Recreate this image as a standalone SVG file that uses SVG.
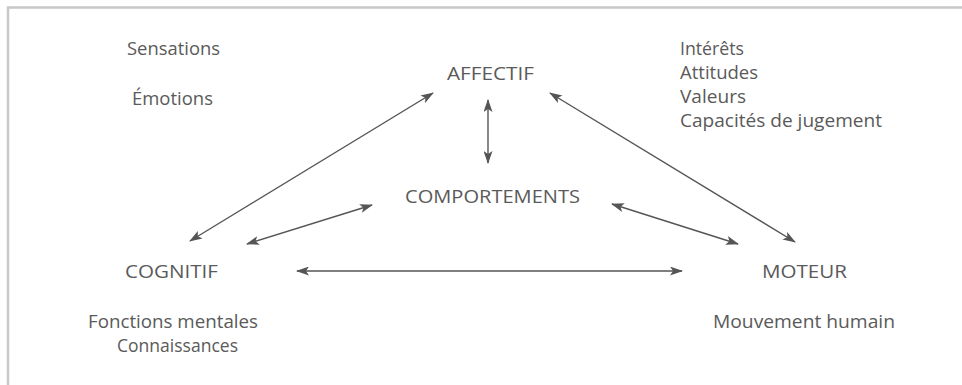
<svg xmlns="http://www.w3.org/2000/svg" width="962" height="385" viewBox="0 0 962 385">
<defs>
<style>
.t{font-family:"Open Sans","Liberation Sans",sans-serif;font-size:18px;fill:#5a5a5a}
.c{stroke:#555;stroke-width:1.4;fill:none;marker-start:url(#ah);marker-end:url(#ah)}
.frame{stroke:#c8c8c8;stroke-width:2.5;fill:none}
</style>
<marker id="ah" viewBox="0 0 13 9" refX="12" refY="4.5" markerWidth="13" markerHeight="9" markerUnits="userSpaceOnUse" orient="auto-start-reverse">
<path d="M0,0 L13,4.5 L0,9 L3,4.5 Z" fill="#555"/>
</marker>
</defs>
<rect width="962" height="385" fill="#fff"/>
<path class="frame" d="M8,385 V7.5 H962"/>
<g id="connectors">
<line class="c" x1="190" y1="241" x2="433" y2="93"/>
<line class="c" x1="488" y1="100" x2="488" y2="163"/>
<line class="c" x1="550" y1="93" x2="795" y2="242"/>
<line class="c" x1="247" y1="244" x2="372" y2="205"/>
<line class="c" x1="612" y1="204" x2="738" y2="244"/>
<line class="c" x1="297" y1="271" x2="682" y2="271"/>
</g>
<g id="affectif">
<text class="t" x="447" y="80" textLength="87" lengthAdjust="spacingAndGlyphs">AFFECTIF</text>
<text class="t" x="127" y="55" textLength="93" lengthAdjust="spacingAndGlyphs">Sensations</text>
<text class="t" x="132" y="105" textLength="81" lengthAdjust="spacingAndGlyphs">Émotions</text>
<text class="t" x="680" y="55" textLength="64" lengthAdjust="spacingAndGlyphs">Intérêts</text>
<text class="t" x="680" y="79" textLength="78" lengthAdjust="spacingAndGlyphs">Attitudes</text>
<text class="t" x="680" y="103" textLength="66" lengthAdjust="spacingAndGlyphs">Valeurs</text>
<text class="t" x="680" y="127" textLength="202" lengthAdjust="spacingAndGlyphs">Capacités de jugement</text>
</g>
<g id="comportements">
<text class="t" x="405" y="203" textLength="175" lengthAdjust="spacingAndGlyphs">COMPORTEMENTS</text>
</g>
<g id="cognitif">
<text class="t" x="125" y="278" textLength="93" lengthAdjust="spacingAndGlyphs">COGNITIF</text>
<text class="t" x="88" y="328" textLength="170" lengthAdjust="spacingAndGlyphs">Fonctions mentales</text>
<text class="t" x="117" y="352" textLength="121" lengthAdjust="spacingAndGlyphs">Connaissances</text>
</g>
<g id="moteur">
<text class="t" x="762" y="278" textLength="85" lengthAdjust="spacingAndGlyphs">MOTEUR</text>
<text class="t" x="713" y="328" textLength="182" lengthAdjust="spacingAndGlyphs">Mouvement humain</text>
</g>
</svg>
